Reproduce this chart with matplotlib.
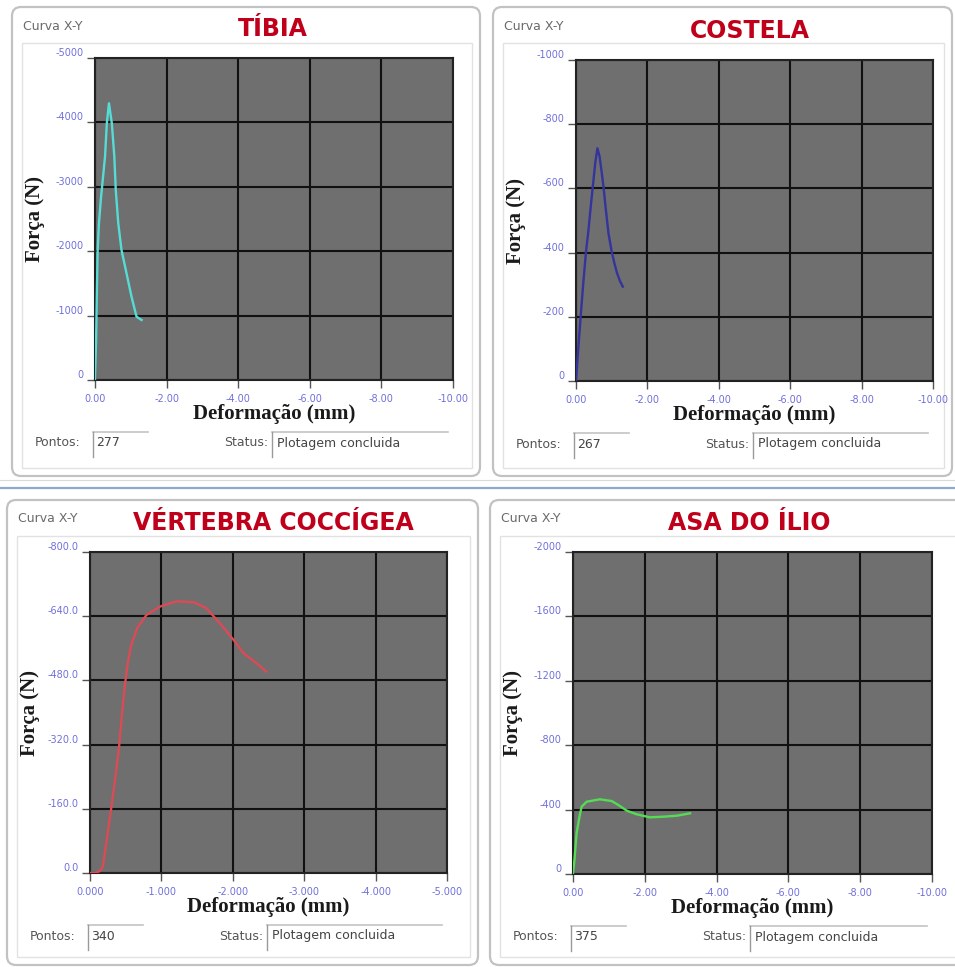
import numpy as np
import matplotlib
matplotlib.use("Agg")
import matplotlib.pyplot as plt
from matplotlib.patches import FancyBboxPatch, Rectangle
from matplotlib.ticker import FixedLocator, FuncFormatter

# --- data (deformation in mm, force in N) ---
titles = ["TÍBIA", "COSTELA", "VÉRTEBRA COCCÍGEA", "ASA DO ÍLIO"]
pontos = ["277", "267", "340", "375"]
status_text = "Plotagem concluida"

tibia_x = [0, -0.03, -0.05, -0.075, -0.11, -0.17, -0.28, -0.33, -0.39,
           -0.47, -0.54, -0.58, -0.65, -0.74, -0.88, -1.02, -1.16, -1.30]
tibia_y = [0, -600, -1294, -2019, -2433, -2847, -3468, -3986, -4297,
           -3986, -3468, -2951, -2433, -2019, -1657, -1294, -983, -932]

costela_x = [0, -0.05, -0.13, -0.20, -0.28, -0.34, -0.41, -0.47, -0.54, -0.60,
             -0.66, -0.72, -0.77, -0.84, -0.91, -1.00, -1.08, -1.15, -1.23, -1.31]
costela_y = [0, -80, -200, -300, -403, -460, -540, -605, -680, -725,
             -700, -650, -605, -530, -460, -403, -365, -336, -312, -294]

vertebra_x = [0, -0.07, -0.14, -0.18, -0.24, -0.30, -0.36, -0.41, -0.45, -0.49,
              -0.53, -0.58, -0.66, -0.79, -0.98, -1.21, -1.45, -1.63, -1.82,
              -2.01, -2.15, -2.33, -2.47]
vertebra_y = [0, 0, -5, -16, -90, -165, -245, -320, -400, -470,
              -525, -570, -610, -643, -664, -677, -675, -660, -622,
              -581, -548, -523, -502]

ilio_x = [0, -0.04, -0.10, -0.18, -0.24, -0.38, -0.75, -1.08, -1.26, -1.50,
          -1.77, -2.14, -2.52, -2.89, -3.26]
ilio_y = [0, -87, -253, -356, -418, -449, -464, -453, -429, -393,
          -371, -352, -356, -362, -377]

series_x = [tibia_x, costela_x, vertebra_x, ilio_x]
series_y = [tibia_y, costela_y, vertebra_y, ilio_y]
colors = ["#55dcd4", "#34349c", "#dc4a55", "#55dc55"]

x_ticks = [[0, -2, -4, -6, -8, -10], [0, -2, -4, -6, -8, -10],
           [0, -1, -2, -3, -4, -5], [0, -2, -4, -6, -8, -10]]
x_decimals = [2, 2, 3, 2]
y_ticks = [[0, -1000, -2000, -3000, -4000, -5000],
           [0, -200, -400, -600, -800, -1000],
           [0, -160, -320, -480, -640, -800],
           [0, -400, -800, -1200, -1600, -2000]]
y_decimals = [0, 0, 1, 0]

# --- layout in pixels (x0, y0, x1, y1), origin top-left ---
W, H = 955, 967
layout = [
    dict(plot=(95, 58, 453, 380), outer=(12, 7, 480, 476), title_x=273),
    dict(plot=(576, 60, 933, 381), outer=(493, 7, 952, 476), title_x=750),
    dict(plot=(90, 552, 447, 873), outer=(7, 500, 478, 965), title_x=273),
    dict(plot=(573, 552, 932, 874), outer=(490, 500, 968, 965), title_x=749),
]

fig = plt.figure(figsize=(W / 100, H / 100), dpi=100)
fig.patch.set_facecolor("white")

bg = fig.add_axes([0, 0, 1, 1])
bg.set_xlim(0, W)
bg.set_ylim(H, 0)
bg.axis("off")

# separator between rows
bg.plot([0, W], [480, 480], color="#dadada", lw=0.8)
bg.plot([0, W], [488, 488], color="#8ea9c9", lw=1.6)

label_font = dict(family="Liberation Serif", weight="bold", size=15, color="#1a1a1a")

for i, lay in enumerate(layout):
    ox0, oy0, ox1, oy1 = lay["outer"]
    px0, py0, px1, py1 = lay["plot"]

    # group box frames
    bg.add_patch(FancyBboxPatch((ox0, oy0), ox1 - ox0, oy1 - oy0,
                                boxstyle="round,pad=0,rounding_size=9",
                                fc="white", ec="#c2c2c2", lw=1.6))
    bg.add_patch(Rectangle((ox0 + 10, oy0 + 36), (ox1 - 8) - (ox0 + 10),
                           (oy1 - 8) - (oy0 + 36), fc="none", ec="#e2e2e2", lw=1.0))

    bg.text(ox0 + 11, oy0 + 19, "Curva X-Y", fontsize=9, color="#6a6a6a",
            ha="left", va="center")
    bg.text(lay["title_x"], py0 - 29, titles[i], fontsize=17, fontweight="bold",
            color="#c0001a", ha="center", va="center")

    # Pontos / Status fields
    ty = py1 + 63
    bg.text(px0 - 60, ty, "Pontos:", fontsize=9, color="#555555", ha="left", va="center")
    bg.plot([px0 - 2, px0 + 53], [py1 + 52, py1 + 52], color="#c4c4c4", lw=1.2)
    bg.plot([px0 - 2, px0 - 2], [py1 + 52, py1 + 77], color="#9a9a9a", lw=1.0)
    bg.text(px0 + 1, ty, pontos[i], fontsize=9, color="#444444", ha="left", va="center")

    bg.text(px0 + 129, ty, "Status:", fontsize=9, color="#555555", ha="left", va="center")
    bg.plot([px0 + 177, px1 - 5], [py1 + 52, py1 + 52], color="#c4c4c4", lw=1.2)
    bg.plot([px0 + 177, px0 + 177], [py1 + 52, py1 + 77], color="#9a9a9a", lw=1.0)
    bg.text(px0 + 182, ty, status_text, fontsize=9, color="#444444", ha="left", va="center")

    # plot area
    ax = fig.add_axes([px0 / W, 1 - py1 / H, (px1 - px0) / W, (py1 - py0) / H])
    ax.set_facecolor("#6f6f6f")
    ax.plot(series_x[i], series_y[i], color=colors[i], lw=1.7, zorder=3)

    xt, yt = x_ticks[i], y_ticks[i]
    ax.set_xlim(0, xt[-1])
    ax.set_ylim(0, yt[-1])
    ax.xaxis.set_major_locator(FixedLocator(xt))
    ax.yaxis.set_major_locator(FixedLocator(yt))
    xd, yd = x_decimals[i], y_decimals[i]
    ax.xaxis.set_major_formatter(FuncFormatter(lambda v, p, d=xd: f"{v:.{d}f}"))
    ax.yaxis.set_major_formatter(FuncFormatter(lambda v, p, d=yd: f"{v:.{d}f}"))

    ax.grid(True, color="#111111", lw=1.5, zorder=1)
    ax.set_axisbelow(True)
    for sp in ax.spines.values():
        sp.set_color("#222222")
        sp.set_linewidth(1.5)

    ax.tick_params(axis="both", direction="out", length=6, width=1, color="#555555",
                   labelsize=7, labelcolor="#7070dc")
    ax.tick_params(axis="x", pad=4)
    ax.tick_params(axis="y", pad=2)
    for lbl in ax.get_yticklabels():
        lbl.set_va("bottom")

    ax.set_xlabel("Deformação (mm)", **label_font)
    ax.set_ylabel("Força (N)", **label_font)
    ax.xaxis.label.set_va("center")
    ax.yaxis.label.set_va("center")
    ax.xaxis.set_label_coords(0.5, -34 / (py1 - py0))
    ax.yaxis.set_label_coords(-60 / (px1 - px0), 0.5)

fig.savefig("out.png", dpi=100, facecolor="white")
